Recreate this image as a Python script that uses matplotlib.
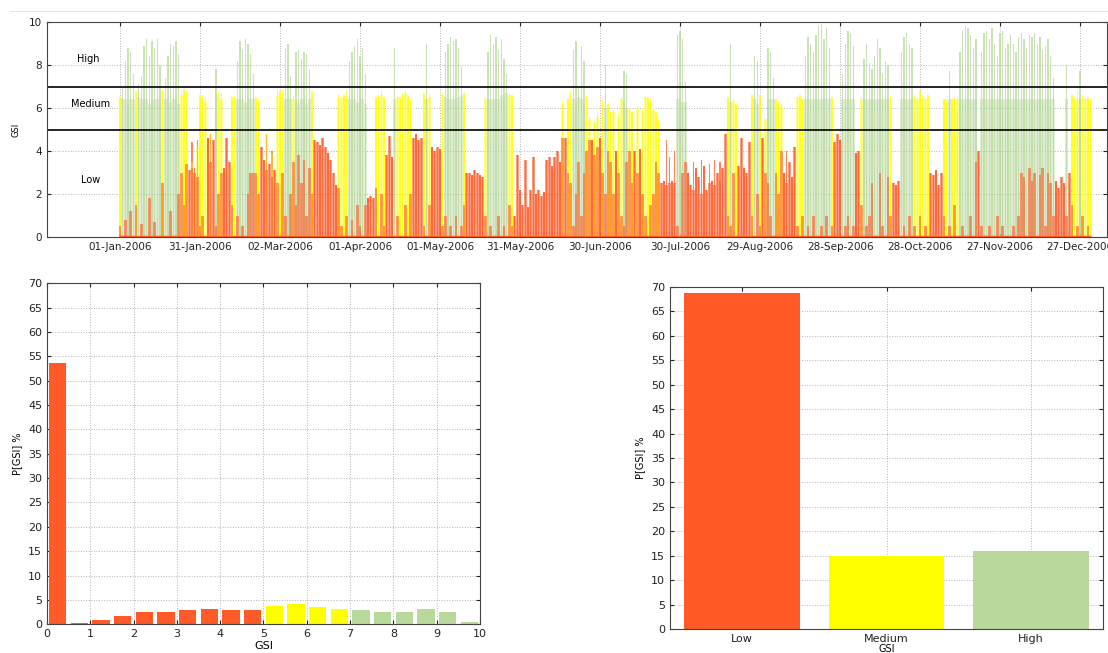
"""
GSI overview for 2006: daily time series on top, histogram and
class shares underneath.
"""

import datetime as dt

import numpy as np
import matplotlib
matplotlib.use("Agg")
import matplotlib.pyplot as plt
import matplotlib.dates as mdates
from matplotlib.lines import Line2D


# ---------------------------------------------------------------------
# Colours of the three GSI classes
# ---------------------------------------------------------------------
RED = "#ff5a28"
YELLOW = "#ffff00"
GREEN = "#b9d99c"

LOW_LIMIT = 5
HIGH_LIMIT = 7

# ---------------------------------------------------------------------
# Daily GSI (peak = daily max, mid = daytime
# plateau, low = level of the low-GSI hours)
# ---------------------------------------------------------------------
jan_peak = [6.5, 7.0, 8.2, 8.8, 8.6, 7.6, 6.8, 7.1, 7.5, 8.9, 9.2, 8.4, 9.1, 8.8, 9.2, 8.0,
            6.9, 7.4, 8.4, 9.0, 8.9, 9.1, 8.5, 6.8, 6.9, 6.8, 3.1, 4.4, 3.2, 4.5, 6.6]
jan_mid = [6.4, 6.4, 6.4, 6.2, 6.4, 6.4, 6.0, 6.5, 6.4, 6.4, 6.4, 6.2, 6.4, 6.4, 6.4, 6.6,
           6.8, 6.4, 6.4, 6.3, 6.4, 6.4, 6.2, 6.6, 6.8, 6.5, 0, 3.5, 0, 4.2, 6.4]
jan_low = [0.5, 0, 0.8, 0, 1.2, 0, 1.5, 0, 0.6, 0, 0, 1.8, 0, 0.7, 0, 0,
           2.5, 0, 0, 1.2, 0, 0, 2.0, 3.0, 1.5, 3.4, 3.1, 3.2, 3.0, 2.8, 0.5]

feb_peak = [6.6, 6.5, 4.6, 4.8, 4.5, 7.8, 6.8, 6.7, 3.2, 4.6, 3.5, 6.5, 6.6, 8.2,
            9.1, 8.7, 9.2, 9.0, 8.5, 7.6, 6.5, 6.4, 4.2, 3.6, 4.8, 3.4, 4.0, 3.1]
feb_mid = [6.4, 6.3, 0, 4.8, 0, 6.7, 6.6, 6.4, 0, 0, 0, 6.4, 6.5, 6.4,
           6.4, 6.4, 6.3, 6.4, 6.4, 6.4, 6.4, 6.3, 0, 0, 4.8, 0, 3.9, 0]
feb_low = [1.0, 0, 4.6, 3.5, 4.5, 0.5, 2.0, 3.0, 3.2, 4.6, 3.5, 1.5, 0, 1.0,
           0, 0.5, 0, 2.0, 3.0, 3.0, 3.0, 2.0, 4.2, 3.6, 3.1, 3.4, 2.8, 3.1]

mar_peak = [6.9, 6.8, 6.9, 8.8, 9.0, 7.5, 6.6, 8.6, 8.7, 8.3, 8.6, 8.5, 7.8, 6.8, 4.5, 4.4,
            4.3, 4.6, 4.2, 3.9, 3.6, 3.0, 2.4, 6.6, 6.5, 6.6, 6.8, 8.2, 8.6, 8.9, 9.2]
mar_mid = [6.6, 6.8, 6.5, 6.4, 6.4, 6.4, 6.4, 6.3, 6.2, 6.4, 6.4, 6.2, 6.4, 6.5, 0, 0,
           0, 0, 0, 0, 0, 0, 0, 6.4, 6.5, 6.4, 6.4, 6.4, 6.4, 6.4, 6.3]
mar_low = [2.5, 0, 3.0, 1.0, 0, 2.0, 3.5, 1.5, 3.8, 2.5, 3.6, 1.0, 3.2, 2.0, 4.5, 4.4,
           4.3, 4.6, 4.2, 3.9, 3.6, 3.0, 2.4, 2.3, 0.5, 0, 1.0, 0, 0.8, 0, 1.5]

apr_peak = [8.4, 8.8, 7.6, 1.8, 1.9, 1.8, 6.5, 6.6, 6.8, 6.5, 3.8, 4.7, 3.7, 8.8, 6.6,
            6.5, 6.7, 6.8, 6.6, 6.4, 4.6, 4.8, 4.5, 4.6, 6.7, 9.0, 6.6, 4.2, 4.0, 4.2]
apr_mid = [6.4, 6.4, 6.2, 0, 0, 0, 6.4, 6.5, 6.6, 6.4, 0, 0, 0, 6.4, 6.5,
           6.4, 6.6, 6.7, 6.5, 6.3, 0, 0, 0, 0, 6.6, 6.4, 6.5, 0, 0, 0]
apr_low = [0.5, 0, 1.5, 1.8, 1.9, 1.8, 2.3, 0, 2.0, 0.5, 3.8, 4.7, 3.7, 0, 1.0,
           0, 0, 1.5, 0, 2.0, 4.6, 4.8, 4.5, 4.6, 0.5, 0, 1.5, 4.2, 4.0, 4.2]

may_peak = [4.1, 6.7, 8.6, 9.0, 9.3, 9.1, 9.2, 8.8, 7.9, 6.7, 3.0, 3.0, 2.9, 3.1, 3.0, 2.9,
            2.8, 6.5, 8.6, 9.4, 9.0, 9.3, 8.7, 9.2, 8.3, 7.6, 6.7, 6.6, 1.0, 3.8, 2.2]
may_mid = [0, 6.6, 6.5, 6.4, 6.4, 6.4, 6.4, 6.5, 6.6, 6.6, 0, 0, 0, 0, 0, 0,
           0, 6.4, 6.4, 6.4, 6.4, 6.4, 6.4, 6.6, 6.5, 6.7, 6.6, 6.4, 0, 0, 0]
may_low = [4.1, 0.5, 1.0, 0, 0.5, 0, 1.0, 0, 0.5, 1.5, 3.0, 3.0, 2.9, 3.1, 3.0, 2.9,
           2.8, 1.0, 0, 0.5, 0, 0, 1.0, 0, 0.5, 0, 1.5, 0.5, 1.0, 3.8, 2.2]

jun_peak = [1.5, 3.6, 1.4, 2.2, 3.7, 2.0, 2.2, 1.9, 2.1, 3.6, 3.7, 3.3, 3.7, 4.0, 3.5,
            6.3, 4.6, 6.4, 6.8, 8.7, 9.1, 7.0, 8.9, 8.2, 6.6, 5.6, 4.5, 5.4, 5.8, 4.6]
jun_mid = [0, 0, 0, 0, 0, 0, 0, 0, 0, 0, 0, 0, 0, 0, 0,
           6.2, 0, 6.3, 6.5, 6.4, 6.3, 6.5, 6.4, 6.2, 6.5, 5.5, 0, 5.3, 5.6, 0]
jun_low = [1.5, 3.6, 1.4, 2.2, 3.7, 2.0, 2.2, 1.9, 2.1, 3.6, 3.7, 3.3, 3.7, 4.0, 3.5,
           4.6, 4.6, 3.0, 2.5, 0.5, 2.0, 3.5, 1.0, 3.0, 4.0, 4.5, 4.5, 3.8, 4.2, 4.6]

jul_peak = [6.4, 8.0, 6.2, 5.8, 5.9, 4.0, 5.7, 6.5, 7.7, 7.6, 6.0, 5.8, 4.0, 6.1, 4.1, 5.9,
            6.6, 6.5, 6.4, 6.0, 5.8, 5.5, 2.5, 2.6, 4.5, 3.7, 2.6, 4.0, 9.4, 9.6, 9.2]
jul_mid = [6.2, 6.0, 6.0, 5.8, 5.8, 0, 5.6, 6.4, 6.3, 6.0, 5.9, 5.7, 0, 6.0, 0, 5.8,
           6.5, 6.4, 6.3, 5.9, 5.7, 5.4, 0, 0, 0, 0, 0, 0, 6.4, 6.4, 6.3]
jul_low = [3.0, 2.0, 4.0, 3.5, 2.0, 4.0, 3.0, 1.0, 0.5, 3.5, 4.0, 2.5, 4.0, 3.0, 4.1, 2.0,
           1.0, 0, 1.5, 2.0, 3.5, 3.0, 2.5, 2.6, 2.4, 2.5, 2.6, 2.5, 0.5, 0, 3.0]

aug_peak = [7.2, 3.0, 2.4, 3.5, 3.2, 2.8, 3.6, 3.3, 2.2, 3.4, 2.6, 3.6, 3.0, 3.5, 3.2, 4.8,
            6.5, 9.0, 6.4, 6.2, 3.3, 4.6, 3.2, 3.0, 4.4, 6.6, 8.4, 8.2, 6.6, 4.6, 5.5]
aug_mid = [6.3, 0, 0, 0, 0, 0, 0, 0, 0, 0, 0, 0, 0, 0, 0, 0,
           6.4, 6.3, 6.3, 6.1, 0, 0, 0, 0, 0, 6.4, 6.4, 6.2, 6.4, 0, 5.5]
aug_low = [3.5, 3.0, 2.4, 2.2, 3.2, 2.8, 2.0, 3.3, 2.2, 2.5, 2.6, 2.4, 3.0, 2.6, 3.2, 4.8,
           1.0, 0.5, 3.0, 0, 3.3, 4.6, 3.2, 3.0, 4.4, 1.0, 0, 2.0, 0.5, 4.6, 3.0]

sep_peak = [8.8, 8.6, 7.4, 6.4, 6.3, 6.2, 3.0, 4.0, 3.5, 2.8, 4.2, 6.5, 6.6, 6.4, 8.4,
            9.3, 9.0, 8.6, 9.4, 9.8, 9.9, 9.2, 9.7, 8.8, 6.5, 4.4, 4.8, 4.5, 7.6, 9.0]
sep_mid = [6.4, 6.4, 6.4, 6.3, 6.2, 6.1, 0, 0, 0, 0, 0, 6.5, 6.4, 6.4, 6.4,
           6.4, 6.4, 6.4, 6.4, 6.4, 6.4, 6.4, 6.4, 6.4, 6.4, 0, 0, 0, 6.4, 6.4]
sep_low = [2.5, 1.0, 0, 3.0, 2.0, 4.0, 3.0, 2.5, 3.5, 2.8, 4.2, 0.5, 0, 1.0, 0,
           0.5, 0, 1.0, 0, 0, 0.5, 0, 1.0, 0, 0.5, 4.4, 4.8, 4.5, 0, 0.5]

oct_peak = [9.6, 9.5, 8.9, 3.9, 4.0, 6.5, 8.3, 9.0, 8.1, 7.8, 8.4, 9.2, 8.8, 7.6, 8.2, 8.0,
            6.6, 2.5, 2.4, 2.6, 8.6, 9.3, 9.5, 9.0, 8.8, 6.6, 6.5, 6.8, 6.6, 6.4, 6.6]
oct_mid = [6.4, 6.4, 6.4, 0, 0, 6.4, 6.4, 6.4, 6.4, 6.4, 6.4, 6.4, 6.4, 6.4, 6.4, 6.4,
           6.4, 0, 0, 0, 6.4, 6.4, 6.4, 6.4, 6.4, 6.4, 6.4, 6.4, 6.4, 6.4, 6.4]
oct_low = [1.0, 0, 0.5, 3.9, 4.0, 1.5, 0, 0.5, 1.0, 2.5, 0, 0, 3.0, 0.5, 0, 2.8,
           1.0, 2.5, 2.4, 2.6, 0, 0.5, 0, 1.0, 0, 0.5, 0, 1.0, 0, 0.5, 0]

nov_peak = [3.0, 2.9, 3.1, 2.4, 3.0, 6.4, 6.3, 7.7, 6.4, 6.5, 6.6, 8.6, 9.6, 9.8, 9.7,
            9.4, 8.8, 9.2, 4.0, 8.6, 9.5, 9.6, 9.2, 9.7, 9.0, 8.4, 9.5, 9.6, 8.8, 9.0]
nov_mid = [0, 0, 0, 0, 0, 6.4, 6.4, 6.4, 6.4, 6.4, 6.4, 6.4, 6.4, 6.4, 6.4,
           6.4, 6.4, 6.4, 0, 6.4, 6.4, 6.4, 6.4, 6.4, 6.4, 6.4, 6.4, 6.4, 6.4, 6.4]
nov_low = [3.0, 2.9, 3.1, 2.4, 3.0, 1.0, 0, 0.5, 0, 1.5, 0, 0, 0.5, 0, 0,
           1.0, 0, 3.5, 4.0, 0.5, 0, 0, 0.5, 0, 0, 1.0, 0, 0.5, 0, 0]

dec_peak = [9.4, 9.0, 8.6, 9.3, 9.5, 9.2, 8.8, 9.4, 9.3, 9.5, 9.0, 9.3, 8.7, 8.9, 9.2, 8.4,
            7.4, 2.6, 2.3, 2.8, 2.5, 8.0, 3.0, 6.6, 6.5, 6.8, 7.7, 6.6, 6.4, 6.5, 6.4]
dec_mid = [6.4, 6.4, 6.4, 6.4, 6.4, 6.4, 6.4, 6.4, 6.4, 6.4, 6.4, 6.4, 6.4, 6.4, 6.4, 6.4,
           6.4, 0, 0, 0, 0, 6.4, 0, 6.4, 6.4, 6.4, 6.4, 6.4, 6.4, 6.4, 6.4]
dec_low = [0, 0.5, 0, 1.0, 3.0, 2.8, 0, 3.2, 2.6, 3.0, 0, 2.9, 3.2, 0.5, 3.0, 2.5,
           1.0, 2.6, 2.3, 2.8, 2.5, 1.0, 3.0, 1.5, 0, 0.5, 0, 1.0, 0, 0.5, 0]

# ---------------------------------------------------------------------
# Histogram of GSI (bins of 0.5) and share per class, in %
# ---------------------------------------------------------------------
hist_bins = [0.25, 0.75, 1.25, 1.75, 2.25, 2.75, 3.25, 3.75, 4.25, 4.75,
             5.25, 5.75, 6.25, 6.75, 7.25, 7.75, 8.25, 8.75, 9.25, 9.75]
hist_pct = [53.7, 0.3, 0.9, 1.6, 2.6, 2.6, 2.9, 3.1, 2.9, 3.0,
            3.8, 4.2, 3.5, 3.1, 2.9, 2.5, 2.6, 3.1, 2.5, 0.5]

class_names = ["Low", "Medium", "High"]
class_pct = [68.8, 15.0, 16.0]

date_ticks = ["2006-01-01", "2006-01-31", "2006-03-02", "2006-04-01", "2006-05-01",
              "2006-05-31", "2006-06-30", "2006-07-30", "2006-08-29", "2006-09-28",
              "2006-10-28", "2006-11-27", "2006-12-27"]


def class_color(v: float) -> str:
    """Colour of the GSI class a value falls in."""
    if v >= HIGH_LIMIT:
        return GREEN
    if v >= LOW_LIMIT:
        return YELLOW
    return RED


def matlab_axes(ax) -> None:
    """Boxed axes with inward ticks and dotted grid."""
    ax.tick_params(direction="in", top=True, right=True, length=3,
                   labelsize=8, colors="#222222")
    ax.grid(True, linestyle=":", color="#b5b5b5", linewidth=0.7)
    ax.set_axisbelow(True)
    for s in ax.spines.values():
        s.set_color("#444444")
        s.set_linewidth(0.8)


months = [
    (jan_peak, jan_mid, jan_low), (feb_peak, feb_mid, feb_low),
    (mar_peak, mar_mid, mar_low), (apr_peak, apr_mid, apr_low),
    (may_peak, may_mid, may_low), (jun_peak, jun_mid, jun_low),
    (jul_peak, jul_mid, jul_low), (aug_peak, aug_mid, aug_low),
    (sep_peak, sep_mid, sep_low), (oct_peak, oct_mid, oct_low),
    (nov_peak, nov_mid, nov_low), (dec_peak, dec_mid, dec_low),
]
for i, (p, m, l) in enumerate(months):
    assert len(p) == len(m) == len(l), f"month {i + 1}: {len(p)} {len(m)} {len(l)}"

peak = np.array(sum((p for p, _, _ in months), []))
mid = np.array(sum((m for _, m, _ in months), []))
low = np.array(sum((l for _, _, l in months), []))

start = mdates.date2num(dt.datetime(2006, 1, 1))
dates = start + np.arange(len(peak))

fig = plt.figure(figsize=(11.08, 6.53), dpi=100)
fig.add_artist(Line2D([10 / 1108, 1.0], [1 - 11 / 653] * 2, color="#e4e4e4", lw=0.8))

# ---------------------------------------------------------------------
# Top: daily GSI series
# ---------------------------------------------------------------------
ax = fig.add_axes([0.0424, 0.637, 0.9567, 0.3293])
matlab_axes(ax)
ax.tick_params(labelsize=7.5)

ax.bar(dates, peak, width=0.45, color=[class_color(v) for v in peak],
       alpha=0.75, linewidth=0)
ax.bar(dates, mid, width=1.0,
       color=[GREEN if p >= HIGH_LIMIT else YELLOW for p in peak],
       alpha=0.45, linewidth=0)
ax.bar(dates, low, width=1.0, color=RED, alpha=0.6, linewidth=0)
ax.hlines(0, dates[0], dates[-1], color=RED, lw=2.5, zorder=3)

ax.axhline(LOW_LIMIT, color="black", lw=1.2)
ax.axhline(HIGH_LIMIT, color="black", lw=1.2)

ax.text(start - 12, 8.3, "High", fontsize=7, ha="center", va="center")
ax.text(start - 11, 6.2, "Medium", fontsize=7, ha="center", va="center")
ax.text(start - 11, 2.65, "Low", fontsize=7, ha="center", va="center")

ax.set_xlim(start - 27.4, start + 370.1)
ax.set_ylim(0, 10)
ax.set_yticks([0, 2, 4, 6, 8, 10])
ax.set_xticks(mdates.datestr2num(date_ticks))
ax.xaxis.set_major_formatter(mdates.DateFormatter("%d-%b-%Y"))
ax.set_ylabel("GSI", fontsize=6, labelpad=6)

# ---------------------------------------------------------------------
# Bottom left: histogram
# ---------------------------------------------------------------------
ax = fig.add_axes([0.0424, 0.0440, 0.3908, 0.5222])
matlab_axes(ax)
ax.bar(hist_bins, hist_pct, width=0.4,
       color=[class_color(b) for b in hist_bins], linewidth=0)
ax.set_xlim(0, 10)
ax.set_ylim(0, 70)
ax.set_xticks(range(0, 11))
ax.set_yticks(range(0, 71, 5))
ax.set_xlabel("GSI", fontsize=8, labelpad=1)
ax.set_ylabel("P[GSI] %", fontsize=7, labelpad=4)

# ---------------------------------------------------------------------
# Bottom right: share per class
# ---------------------------------------------------------------------
ax = fig.add_axes([0.6047, 0.0368, 0.3908, 0.5237])
matlab_axes(ax)
xpos = np.arange(1, len(class_names) + 1)
ax.bar(xpos, class_pct, width=0.8, color=[RED, YELLOW, GREEN], linewidth=0)
ax.set_xlim(0.5, 3.5)
ax.set_ylim(0, 70)
ax.set_xticks(xpos)
ax.set_xticklabels(class_names)
ax.set_yticks(range(0, 71, 5))
ax.set_xlabel("GSI", fontsize=7, labelpad=0)
ax.set_ylabel("P[GSI] %", fontsize=7, labelpad=4)

fig.savefig("out.png", dpi=100)
